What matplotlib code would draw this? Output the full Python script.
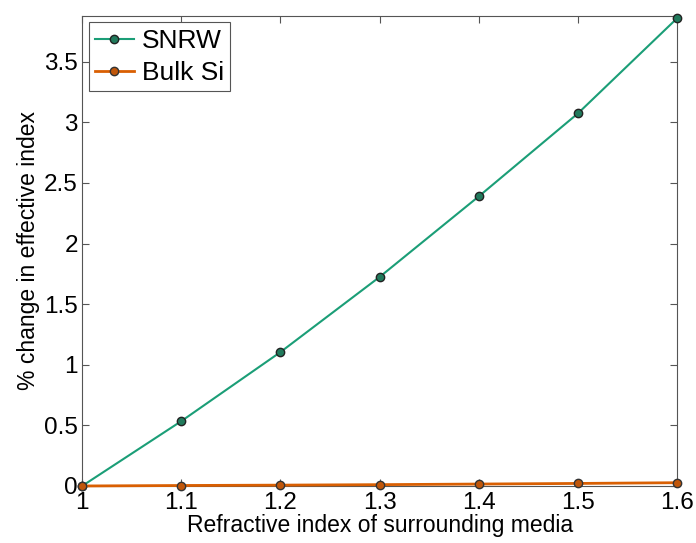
import numpy as np
import matplotlib.pyplot as plt

n_media = [1.0, 1.1, 1.2, 1.3, 1.4, 1.5, 1.6]
snrw = [0.0, 0.535, 1.105, 1.725, 2.39, 3.075, 3.86]
bulk_si = [0.0, 0.004, 0.007, 0.011, 0.016, 0.021, 0.027]

plt.rcParams['font.family'] = ['Liberation Sans', 'DejaVu Sans']
plt.rcParams['font.size'] = 17

fig = plt.figure(figsize=(6.96, 5.43), dpi=100)
ax = fig.add_axes([0.118, 0.105, 0.855, 0.866])

ax.plot(n_media, snrw, color='#1b9e77', lw=1.5, marker='o', ms=6,
        mfc='#217a5c', mec='#222222', mew=1, label='SNRW', clip_on=False, zorder=3)
ax.plot(n_media, bulk_si, color='#d95f02', lw=2, marker='o', ms=6,
        mfc='#c0560a', mec='#333333', mew=1, label='Bulk Si', clip_on=False, zorder=3)

ax.set_xlim(1, 1.6)
ax.set_ylim(0, 3.88)
ax.set_xticks(n_media)
ax.set_xticklabels(['1', '1.1', '1.2', '1.3', '1.4', '1.5', '1.6'])
ax.set_yticks([0, 0.5, 1, 1.5, 2, 2.5, 3, 3.5])
ax.set_yticklabels(['0', '0.5', '1', '1.5', '2', '2.5', '3', '3.5'])
ax.tick_params(direction='in', length=5, width=0.8, color='#555555',
               top=True, right=True, labelsize=17.5)
ax.tick_params(axis='x', pad=4)
ax.tick_params(axis='y', pad=3)
for s in ax.spines.values():
    s.set_color('#555555')
    s.set_linewidth(0.8)

ax.set_xlabel('Refractive index of surrounding media', fontsize=16.5, labelpad=0.5)
ax.set_ylabel('% change in effective index', fontsize=16.5, labelpad=3)

leg = ax.legend(loc='upper left', fontsize=19, fancybox=False, framealpha=1,
                edgecolor='#555555', borderaxespad=0.25, handlelength=1.45,
                borderpad=0.25, labelspacing=0.3, handletextpad=0.3)
leg.get_frame().set_linewidth(0.8)

fig.savefig('out.png', dpi=100)
